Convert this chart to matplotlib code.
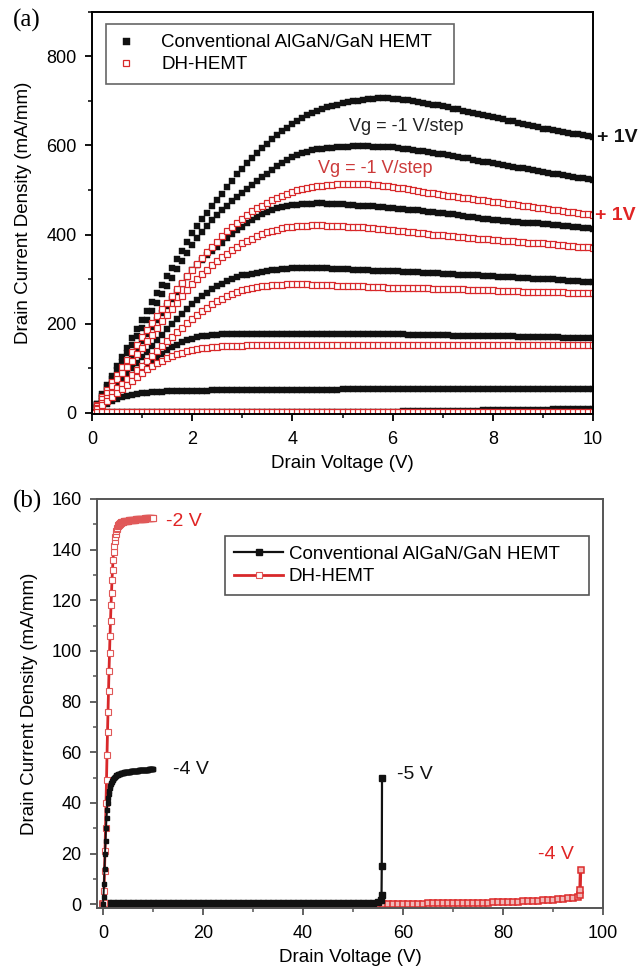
import numpy as np
import matplotlib
matplotlib.use("Agg")
import matplotlib.pyplot as plt
from matplotlib.ticker import MultipleLocator

plt.rcParams['font.family'] = ['Liberation Sans', 'DejaVu Sans']

# ---------------- panel (a): output characteristics, Vd sweep 0..10 V in 0.1 V steps
vd_a = np.round(np.arange(0, 10.01, 0.1), 1)

# conventional AlGaN/GaN HEMT, Vg = +1 .. -5 V
cv_p1 = [0, 20, 41, 62, 83, 104, 125, 146, 167, 188,
         208, 228, 248, 268, 287, 306, 325, 345, 364, 384,
         403, 419, 434, 449, 464, 478, 492, 507, 521, 535,
         548, 560, 571, 583, 594, 604, 614, 623, 632, 640,
         648, 655, 662, 668, 673, 678, 682, 686, 689, 692,
         695, 697, 699, 701, 703, 704, 705, 706, 706, 706,
         705, 704, 703, 702, 700, 698, 696, 694, 692, 690,
         688, 686, 683, 681, 678, 676, 674, 671, 669, 666,
         664, 661, 659, 656, 654, 651, 648, 646, 643, 641,
         638, 636, 634, 632, 630, 628, 626, 625, 623, 622,
         620]
cv_0 = [0, 19, 38, 57, 76, 95, 114, 133, 152, 171,
        190, 209, 228, 247, 266, 284, 303, 322, 340, 359,
        377, 392, 406, 419, 432, 444, 455, 465, 475, 484,
        493, 502, 511, 520, 529, 537, 545, 553, 561, 568,
        575, 579, 583, 586, 589, 591, 593, 594, 595, 596,
        597, 597, 598, 598, 598, 598, 597, 597, 597, 596,
        596, 594, 593, 591, 590, 588, 587, 585, 584, 582,
        581, 579, 577, 575, 573, 571, 568, 566, 564, 562,
        560, 558, 556, 554, 552, 550, 549, 547, 545, 543,
        541, 539, 537, 535, 533, 531, 530, 528, 526, 524,
        522]
cv_m1 = [0, 16, 32, 48, 64, 80, 96, 112, 128, 144,
         160, 176, 192, 208, 224, 240, 256, 272, 289, 305,
         320, 332, 343, 353, 363, 373, 382, 392, 401, 410,
         418, 425, 432, 439, 445, 451, 455, 459, 462, 464,
         466, 467, 468, 469, 469, 470, 470, 469, 469, 468,
         468, 467, 466, 465, 464, 464, 463, 462, 461, 460,
         459, 458, 457, 456, 455, 454, 452, 451, 450, 449,
         448, 446, 445, 443, 442, 440, 439, 437, 436, 434,
         433, 432, 431, 430, 429, 428, 427, 426, 425, 425,
         424, 423, 422, 421, 420, 419, 417, 416, 415, 414,
         413]
cv_m2 = [0, 13, 26, 38, 51, 63, 76, 88, 100, 112,
         124, 137, 149, 162, 174, 187, 198, 210, 221, 232,
         243, 252, 261, 269, 277, 284, 290, 296, 301, 305,
         308, 310, 312, 314, 316, 318, 320, 321, 322, 323,
         324, 324, 325, 325, 325, 325, 324, 324, 323, 323,
         322, 322, 321, 321, 320, 320, 319, 319, 318, 318,
         317, 317, 316, 316, 315, 315, 314, 314, 313, 313,
         312, 311, 311, 310, 309, 309, 308, 308, 307, 307,
         306, 305, 305, 304, 304, 303, 302, 302, 301, 301,
         300, 299, 299, 298, 297, 296, 296, 295, 294, 294,
         293]
cv_m3 = [0, 11, 22, 32, 42, 52, 61, 70, 79, 88,
         97, 106, 115, 124, 132, 140, 147, 153, 158, 162,
         166, 169, 171, 173, 174, 175, 176, 176, 177, 177,
         177, 177, 177, 177, 177, 177, 177, 177, 177, 177,
         177, 177, 177, 177, 177, 177, 177, 177, 177, 177,
         177, 177, 177, 177, 177, 177, 176, 176, 176, 176,
         176, 176, 176, 175, 175, 175, 175, 174, 174, 174,
         174, 174, 173, 173, 173, 173, 172, 172, 172, 172,
         172, 171, 171, 171, 171, 170, 170, 170, 170, 169,
         169, 169, 169, 169, 168, 168, 168, 168, 168, 168,
         168]
cv_m4 = [0, 7, 14, 20, 25, 30, 34, 37, 40, 42,
         44, 45, 46, 47, 47, 48, 48, 48, 49, 49,
         49, 49, 49, 49, 50, 50, 50, 50, 50, 50,
         50, 50, 50, 50, 50, 51, 51, 51, 51, 51,
         51, 51, 51, 51, 51, 51, 51, 51, 51, 51,
         52, 52, 52, 52, 52, 52, 52, 52, 52, 52,
         52, 52, 52, 52, 52, 52, 52, 52, 52, 52,
         52, 52, 52, 52, 52, 53, 53, 53, 53, 53,
         53, 53, 53, 53, 53, 53, 53, 53, 53, 53,
         53, 53, 53, 53, 53, 53, 53, 53, 53, 53,
         53]
cv_m5 = [0, 0.5, 1, 1, 1, 1, 1, 1, 1, 1,
         1, 1, 1, 1, 1, 1, 1, 1, 1, 1,
         1, 1, 1, 1, 1, 1, 1, 1, 1, 1,
         1.5, 1.5, 1.5, 1.5, 1.5, 1.5, 1.5, 1.5, 1.5, 1.5,
         1.5, 1.5, 1.5, 1.5, 1.5, 2, 2, 2, 2, 2,
         2, 2, 2, 2, 2, 2, 2.5, 2.5, 2.5, 2.5,
         2.5, 2.5, 3, 3, 3, 3, 3, 3.5, 3.5, 3.5,
         3.5, 4, 4, 4, 4, 4.5, 4.5, 4.5, 5, 5,
         5, 5, 5.5, 5.5, 6, 6, 6, 6.5, 6.5, 7,
         7, 7, 7.5, 7.5, 8, 8, 8, 8.5, 8.5, 9,
         9]

# DH-HEMT, Vg = +1 .. -3 V
dh_p1 = [0, 17, 34, 51, 68, 85, 102, 119, 136, 153,
         169, 185, 201, 217, 232, 247, 262, 277, 292, 306,
         320, 334, 347, 360, 372, 384, 396, 407, 417, 427,
         436, 444, 452, 459, 465, 471, 477, 482, 487, 491,
         495, 499, 502, 505, 507, 509, 510, 511, 512, 513,
         513, 514, 514, 514, 513, 513, 512, 511, 510, 509,
         507, 505, 504, 502, 500, 498, 496, 494, 493, 491,
         489, 487, 486, 484, 483, 481, 480, 478, 477, 475,
         474, 472, 471, 469, 468, 466, 465, 463, 462, 460,
         459, 457, 456, 454, 453, 451, 450, 448, 447, 445,
         444]
dh_0 = [0, 15, 30, 45, 60, 75, 89, 103, 117, 131,
        145, 160, 175, 190, 205, 219, 233, 247, 262, 276,
        289, 300, 311, 321, 331, 340, 349, 357, 365, 373,
        380, 386, 391, 396, 401, 405, 408, 411, 414, 416,
        418, 419, 420, 420, 421, 421, 421, 420, 420, 419,
        419, 418, 418, 417, 416, 415, 414, 413, 412, 411,
        410, 409, 408, 406, 405, 404, 403, 402, 400, 399,
        398, 397, 396, 395, 394, 393, 392, 391, 390, 389,
        388, 387, 386, 386, 385, 384, 383, 382, 382, 381,
        380, 379, 378, 377, 376, 375, 374, 373, 372, 371,
        370]
dh_m1 = [0, 11, 22, 33, 44, 55, 65, 75, 85, 95,
         105, 116, 127, 138, 149, 160, 170, 180, 191, 201,
         210, 219, 228, 236, 243, 250, 256, 262, 267, 271,
         275, 278, 280, 282, 284, 285, 286, 287, 287, 288,
         288, 288, 288, 288, 287, 287, 287, 286, 286, 285,
         285, 285, 284, 284, 284, 283, 283, 282, 282, 281,
         281, 281, 280, 280, 280, 279, 279, 279, 278, 278,
         278, 278, 277, 277, 277, 276, 276, 276, 275, 275,
         275, 274, 274, 274, 273, 273, 272, 272, 272, 271,
         271, 271, 270, 270, 270, 269, 269, 269, 268, 268,
         268]
dh_m2 = [0, 9, 18, 27, 36, 45, 54, 63, 72, 81,
         89, 97, 104, 111, 117, 122, 127, 131, 135, 138,
         141, 143, 145, 146, 147, 148, 149, 149, 150, 150,
         150, 151, 151, 151, 151, 151, 151, 151, 151, 151,
         152, 152, 152, 152, 152, 152, 152, 152, 152, 152,
         152, 152, 152, 152, 152, 152, 152, 152, 152, 152,
         152, 152, 152, 152, 152, 152, 152, 152, 152, 152,
         153, 153, 153, 153, 153, 153, 153, 153, 153, 153,
         153, 153, 153, 153, 153, 153, 153, 153, 153, 153,
         153, 153, 153, 153, 153, 153, 153, 153, 153, 153,
         153]
dh_m3 = [0, 0.5, 1, 1, 1, 1, 1, 1, 1, 1,
         1, 1, 1, 1, 1, 1, 1, 1, 1, 1,
         1, 1, 1, 1, 1, 1, 1, 1, 1, 1,
         1, 1, 1, 1, 1, 1, 1, 1, 1, 1,
         1, 1, 1, 1, 1, 1, 1, 1, 1, 1,
         1, 1, 1, 1, 1, 1, 1, 1, 1, 1,
         1.5, 1.5, 1.5, 1.5, 1.5, 1.5, 1.5, 1.5, 1.5, 1.5,
         1.5, 1.5, 1.5, 1.5, 1.5, 1.5, 1.5, 1.5, 1.5, 1.5,
         1.5, 1.5, 1.5, 1.5, 1.5, 1.5, 1.5, 1.5, 1.5, 1.5,
         1.5, 1.5, 1.5, 1.5, 2, 2, 2, 2, 2, 2,
         2]

cv_curves_a = [cv_p1, cv_0, cv_m1, cv_m2, cv_m3, cv_m4, cv_m5]
dh_curves_a = [dh_p1, dh_0, dh_m1, dh_m2, dh_m3]

# ---------------- panel (b): off-state breakdown
vd_b_short = np.round(np.arange(0, 10.01, 0.1), 1)
dh_on_b = [0, 0.5, 5, 13, 21, 30, 40, 49, 59, 68,
           76, 84, 92, 99, 106, 112, 118, 123, 128, 132,
           136, 139, 141.5, 143.5, 145, 146.3, 147.3, 148.1, 148.7, 149.2,
           149.6, 149.9, 150.1, 150.3, 150.5, 150.6, 150.7, 150.8, 150.9, 151.0,
           151.0, 151.1, 151.1, 151.2, 151.2, 151.3, 151.3, 151.3, 151.4, 151.4,
           151.4, 151.5, 151.5, 151.5, 151.6, 151.6, 151.6, 151.7, 151.7, 151.7,
           151.7, 151.8, 151.8, 151.8, 151.8, 151.9, 151.9, 151.9, 151.9, 152.0,
           152.0, 152.0, 152.0, 152.0, 152.1, 152.1, 152.1, 152.1, 152.1, 152.2,
           152.2, 152.2, 152.2, 152.2, 152.3, 152.3, 152.3, 152.3, 152.3, 152.3,
           152.4, 152.4, 152.4, 152.4, 152.4, 152.4, 152.5, 152.5, 152.5, 152.5,
           152.5]
cv_on_b = [0, 3, 8, 14, 20, 25, 30, 34, 37, 40,
           42, 43.5, 44.8, 45.8, 46.6, 47.3, 47.9, 48.4, 48.8, 49.2,
           49.5, 49.8, 50.0, 50.2, 50.4, 50.6, 50.8, 50.9, 51.0, 51.1,
           51.2, 51.3, 51.4, 51.5, 51.5, 51.6, 51.7, 51.7, 51.8, 51.8,
           51.9, 51.9, 52.0, 52.0, 52.0, 52.1, 52.1, 52.1, 52.2, 52.2,
           52.2, 52.3, 52.3, 52.3, 52.3, 52.4, 52.4, 52.4, 52.4, 52.5,
           52.5, 52.5, 52.5, 52.6, 52.6, 52.6, 52.6, 52.7, 52.7, 52.7,
           52.7, 52.8, 52.8, 52.8, 52.8, 52.8, 52.9, 52.9, 52.9, 52.9,
           52.9, 53.0, 53.0, 53.0, 53.0, 53.0, 53.1, 53.1, 53.1, 53.1,
           53.1, 53.2, 53.2, 53.2, 53.2, 53.2, 53.2, 53.3, 53.3, 53.3,
           53.3]

# breakdown sweeps, 1 V steps plus the final points of the avalanche
vd_cv_bd = np.r_[np.arange(0, 56, 1.0), 55.6, 55.7, 55.75, 55.8]
cv_bd = [0.2, 0.3, 0.3, 0.3, 0.3, 0.3, 0.3, 0.3, 0.3, 0.3,
         0.3, 0.3, 0.3, 0.3, 0.3, 0.3, 0.3, 0.3, 0.3, 0.3,
         0.3, 0.3, 0.3, 0.3, 0.3, 0.3, 0.3, 0.3, 0.3, 0.3,
         0.3, 0.3, 0.3, 0.3, 0.3, 0.3, 0.3, 0.3, 0.3, 0.3,
         0.4, 0.4, 0.4, 0.4, 0.4, 0.4, 0.4, 0.4, 0.4, 0.4,
         0.5, 0.5, 0.5, 0.6, 0.6, 0.7,
         1.5, 3.5, 15, 50]
vd_dh_bd = np.r_[np.arange(0, 96, 1.0), 95.3, 95.4, 95.5]
dh_bd = [0, 0.1, 0.1, 0.1, 0.1, 0.1, 0.1, 0.1, 0.1, 0.1,
         0.1, 0.1, 0.1, 0.1, 0.1, 0.1, 0.1, 0.1, 0.1, 0.1,
         0.1, 0.1, 0.1, 0.1, 0.1, 0.1, 0.1, 0.1, 0.1, 0.1,
         0.1, 0.1, 0.1, 0.1, 0.1, 0.1, 0.1, 0.1, 0.1, 0.1,
         0.15, 0.15, 0.15, 0.15, 0.15, 0.15, 0.15, 0.15, 0.15, 0.15,
         0.2, 0.2, 0.2, 0.2, 0.2, 0.2, 0.2, 0.2, 0.2, 0.2,
         0.2, 0.2, 0.25, 0.25, 0.25, 0.3, 0.3, 0.3, 0.35, 0.35,
         0.4, 0.4, 0.45, 0.5, 0.5, 0.55, 0.6, 0.65, 0.7, 0.75,
         0.8, 0.85, 0.9, 1.0, 1.1, 1.2, 1.3, 1.4, 1.5, 1.6,
         1.8, 1.9, 2.1, 2.3, 2.6, 3.0,
         3.5, 5.5, 13.5]

BLACK = "#111111"
RED = "#d8282a"

fig = plt.figure(figsize=(6.42, 9.69), dpi=100)
ax1 = fig.add_axes([0.1433, 0.5728, 0.7804, 0.4149])
ax2 = fig.add_axes([0.1511, 0.0630, 0.7882, 0.4221])

for ax, spcol in [(ax1, "black"), (ax2, "#555555")]:
    for s in ax.spines.values():
        s.set_color(spcol)
        s.set_linewidth(1.4)
    ax.tick_params(which="major", direction="out", length=5, width=1.3,
                   labelsize=13, color=spcol, top=False, right=False)
    ax.tick_params(which="minor", direction="out", length=3, width=1.1,
                   color=spcol, top=False, right=False)
    ax.tick_params(axis="x", which="major", pad=7)
    ax.tick_params(axis="y", which="major", pad=6)

# ---- panel (a)
for i, y in enumerate(cv_curves_a):
    ax1.plot(vd_a, y, ls="none", marker="s", ms=4.2, mfc=BLACK, mec=BLACK,
             mew=0.3, label="Conventional AlGaN/GaN HEMT" if i == 0 else None)
for i, y in enumerate(dh_curves_a):
    ax1.plot(vd_a, y, ls="none", marker="s", ms=4.0, mfc="white", mec=RED,
             mew=0.9, label="DH-HEMT" if i == 0 else None)

ax1.set_xlim(0, 10)
ax1.set_ylim(-3, 900)
ax1.xaxis.set_major_locator(MultipleLocator(2))
ax1.xaxis.set_minor_locator(MultipleLocator(1))
ax1.yaxis.set_major_locator(MultipleLocator(200))
ax1.yaxis.set_minor_locator(MultipleLocator(100))
ax1.set_xlabel("Drain Voltage (V)", fontsize=13.5, labelpad=5)
ax1.set_ylabel("Drain Current Density (mA/mm)", fontsize=13.5, labelpad=10)

leg1 = ax1.legend(loc="upper left", bbox_to_anchor=(0.028, 0.826, 0.695, 0.144),
                  mode="expand", borderaxespad=0, fontsize=13.5, numpoints=1,
                  handlelength=1.0, handletextpad=1.4, labelspacing=0.25,
                  borderpad=0.55, fancybox=False, framealpha=1,
                  edgecolor="#666666", markerscale=1.2)
leg1.get_frame().set_linewidth(1.2)

ax1.text(5.13, 643, "Vg = -1 V/step", fontsize=13, color="#222222", va="center")
ax1.text(4.51, 548, "Vg = -1 V/step", fontsize=13, color="#cc3a3a", va="center")
ax1.text(10.07, 619, "+ 1V", fontsize=14, fontweight="bold", color=BLACK,
         va="center", clip_on=False)
ax1.text(10.04, 442, "+ 1V", fontsize=14, fontweight="bold", color="#e02424",
         va="center", clip_on=False)

# ---- panel (b): red breakdown sweep first, black sweeps drawn over it
ax2.plot(vd_dh_bd, dh_bd, color=RED, lw=2.4, marker="s", ms=3.8,
         mfc="#f0b8b8", mec="#dc2c2c", mew=1.1)
ln_cv, = ax2.plot(vd_cv_bd, cv_bd, color=BLACK, lw=1.6, marker="s", ms=3.8,
                  mfc=BLACK, mec=BLACK)
ln_dh, = ax2.plot(vd_b_short, dh_on_b, color=RED, lw=2.0, marker="s", ms=3.8,
                  mfc="white", mec="#e05858", mew=0.8)
ax2.plot(vd_b_short, cv_on_b, color=BLACK, lw=1.4, marker="s", ms=3.4,
         mfc=BLACK, mec=BLACK)

ax2.set_xlim(-1.2, 100)
ax2.set_ylim(-1.5, 160)
ax2.xaxis.set_major_locator(MultipleLocator(20))
ax2.xaxis.set_minor_locator(MultipleLocator(10))
ax2.yaxis.set_major_locator(MultipleLocator(20))
ax2.yaxis.set_minor_locator(MultipleLocator(10))
ax2.set_xlabel("Drain Voltage (V)", fontsize=13.5, labelpad=5)
ax2.set_ylabel("Drain Current Density (mA/mm)", fontsize=13.5, labelpad=10)

leg2 = ax2.legend([ln_cv, ln_dh], ["Conventional AlGaN/GaN HEMT", "DH-HEMT"],
                  loc="upper left", bbox_to_anchor=(0.253, 0.773, 0.719, 0.136),
                  mode="expand", borderaxespad=0, fontsize=13.5, numpoints=1,
                  handlelength=2.6, handletextpad=0.3, labelspacing=0.3,
                  borderpad=0.5, fancybox=False, framealpha=1,
                  edgecolor="#555555", markerscale=1.1)
leg2.get_frame().set_linewidth(1.2)

ax2.text(12.6, 151, "-2 V", fontsize=14, color="#e02424", va="center")
ax2.text(14.0, 53, "-4 V", fontsize=14, color=BLACK, va="center")
ax2.text(58.8, 51, "-5 V", fontsize=14, color=BLACK, va="center")
ax2.text(86.9, 19.7, "-4 V", fontsize=14, color="#e02424", va="center")

fig.text(0.02, 0.979, "(a)", fontsize=18, family="Liberation Serif", va="center")
fig.text(0.02, 0.482, "(b)", fontsize=18, family="Liberation Serif", va="center")

fig.savefig("out.png", dpi=100)
